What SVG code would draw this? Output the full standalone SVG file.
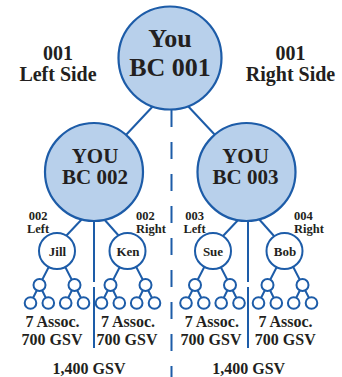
<svg xmlns="http://www.w3.org/2000/svg" xmlns:xlink="http://www.w3.org/1999/xlink" width="342" height="377" viewBox="0 0 342 377" font-family="'Liberation Serif', 'DejaVu Serif', serif">
<style>
.ln{stroke:#1d5ca8;stroke-width:2;fill:none}
.big{fill:#b8d0eb;stroke:#1d5ca8;stroke-width:2.2}
.mid{fill:#fff;stroke:#1d5ca8;stroke-width:2}
.sm{fill:#fff;stroke:#1d5ca8;stroke-width:2}
.tx{font-family:'Liberation Serif','DejaVu Serif',serif;font-weight:bold;fill:#231f20;text-anchor:middle}
.t26{font-size:26px}
.t21{font-size:21px}
.t20{font-size:20px}
.t16{font-size:16px}
.t13{font-size:13px}
.t12{font-size:12.5px}
.st{text-anchor:start}
</style>
<defs>
<g id="subtree">
<path class="ln" d="M0,0L-17.5,34M0,0L17.5,34M-17.5,34L-26.5,52M-17.5,34L-8.7,52M17.5,34L8.7,52M17.5,34L26.5,52"/>
<circle class="sm" cx="-17.5" cy="34" r="6"/>
<circle class="sm" cx="17.5" cy="34" r="6"/>
<circle class="sm" cx="-26.5" cy="52" r="5.8"/>
<circle class="sm" cx="-8.7" cy="52" r="5.8"/>
<circle class="sm" cx="8.7" cy="52" r="5.8"/>
<circle class="sm" cx="26.5" cy="52" r="5.8"/>
</g>
</defs>
<g id="connectors">
<line class="ln" x1="171.5" y1="110" x2="171.5" y2="377" stroke-dasharray="17 15"/>
<line class="ln" x1="155" y1="104" x2="125" y2="136"/>
<line class="ln" x1="186" y1="104" x2="216" y2="136"/>
<line class="ln" x1="83" y1="218" x2="66" y2="236"/>
<line class="ln" x1="103" y1="218" x2="119" y2="236"/>
<line class="ln" x1="240" y1="218" x2="223" y2="236"/>
<line class="ln" x1="258" y1="218" x2="274" y2="236"/>
<line class="ln" x1="94" y1="220" x2="94" y2="282"/>
<line class="ln" x1="94" y1="287" x2="94" y2="348"/>
<line class="ln" x1="248" y1="220" x2="248" y2="282"/>
<line class="ln" x1="248" y1="287" x2="248" y2="348"/>
</g>
<g id="labels">
<text class="tx t20" x="58" y="60">001</text>
<text class="tx t20" x="58" y="81">Left Side</text>
<text class="tx t20" x="290.5" y="60">001</text>
<text class="tx t20" x="290.5" y="81">Right Side</text>
<text class="tx t12" x="38" y="220">002</text>
<text class="tx t12" x="38" y="233">Left</text>
<text class="tx t12 st" x="136" y="220">002</text>
<text class="tx t12 st" x="136" y="233">Right</text>
<text class="tx t12" x="194.5" y="220">003</text>
<text class="tx t12" x="194.5" y="233">Left</text>
<text class="tx t12 st" x="294" y="220">004</text>
<text class="tx t12 st" x="294" y="233">Right</text>
</g>
<g id="node-you">
<circle class="big" cx="170" cy="58" r="51.5"/>
<text class="tx t26" x="170" y="47">You</text>
<text class="tx t26" x="170" y="76">BC 001</text>
</g>
<g id="node-bc002">
<circle class="big" cx="94" cy="172" r="49"/>
<text class="tx t21" x="95" y="163">YOU</text>
<text class="tx t21" x="95" y="184">BC 002</text>
</g>
<g id="node-bc003">
<circle class="big" cx="246.5" cy="172" r="49"/>
<text class="tx t21" x="245.5" y="162.5">YOU</text>
<text class="tx t21" x="245.5" y="183.5">BC 003</text>
</g>
<g id="node-jill">
<use xlink:href="#subtree" href="#subtree" x="57" y="251"/>
<circle class="mid" cx="57" cy="251" r="18"/>
<text class="tx t13" x="57.5" y="255.5">Jill</text>
<text class="tx t16" x="52.5" y="327">7 Assoc.</text>
<text class="tx t16" x="52" y="345">700 GSV</text>
</g>
<g id="node-ken">
<use xlink:href="#subtree" href="#subtree" x="128" y="251"/>
<circle class="mid" cx="127.5" cy="251" r="18"/>
<text class="tx t13" x="128" y="255.5">Ken</text>
<text class="tx t16" x="128" y="327">7 Assoc.</text>
<text class="tx t16" x="127" y="345">700 GSV</text>
</g>
<g id="node-sue">
<use xlink:href="#subtree" href="#subtree" x="212.5" y="251"/>
<circle class="mid" cx="213" cy="251" r="18"/>
<text class="tx t13" x="213" y="255.5">Sue</text>
<text class="tx t16" x="211.8" y="327">7 Assoc.</text>
<text class="tx t16" x="211" y="345">700 GSV</text>
</g>
<g id="node-bob">
<use xlink:href="#subtree" href="#subtree" x="285" y="251"/>
<circle class="mid" cx="284.5" cy="251" r="18"/>
<text class="tx t13" x="285" y="255.5">Bob</text>
<text class="tx t16" x="285.5" y="327">7 Assoc.</text>
<text class="tx t16" x="285.3" y="345">700 GSV</text>
</g>
<g id="totals">
<text class="tx t16" x="89" y="374">1,400 GSV</text>
<text class="tx t16" x="248.7" y="374">1,400 GSV</text>
</g>
</svg>
